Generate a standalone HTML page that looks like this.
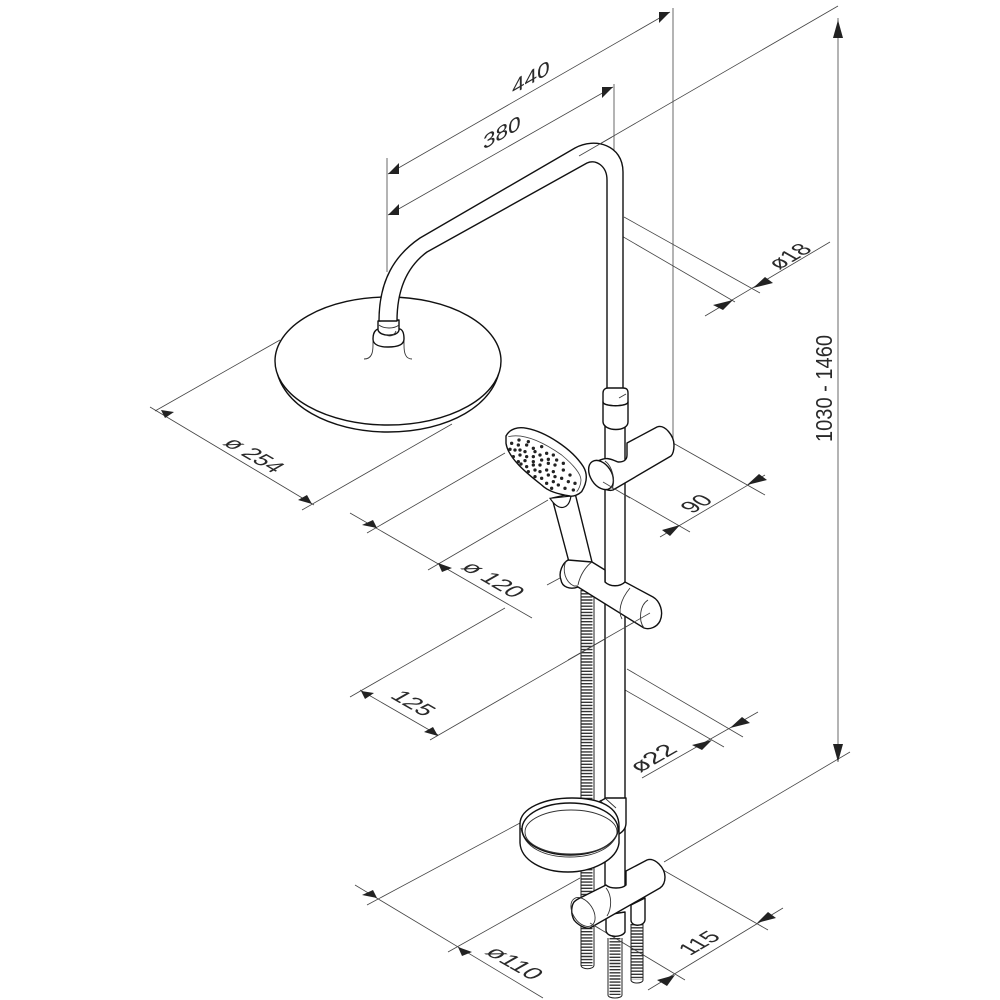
<!DOCTYPE html>
<html><head><meta charset="utf-8"><style>
html,body{margin:0;padding:0;background:#fff}svg{display:block}
text{font-family:"Liberation Sans",sans-serif;fill:#2a2a2a;font-size:20px}
.d{stroke:#444;stroke-width:.8;fill:none}
.o{stroke:#111;stroke-width:1.4;fill:#fff;stroke-linejoin:round}
.n{stroke:#111;stroke-width:1.4;fill:none}
.t{stroke:#333;stroke-width:.9;fill:none}
.h{stroke:#333;stroke-width:11;stroke-dasharray:1.4 1.7;fill:none}
.e{stroke:#222;stroke-width:1;fill:none}
.ar polygon{fill:#222}
</style></head><body>
<svg width="1000" height="1000" viewBox="0 0 1000 1000" xmlns="http://www.w3.org/2000/svg">

<!-- dimension lines -->
<g class="d">
<path d="M387 158V272"/>
<path d="M388 174L670 12M388 215L613 87"/>
<path d="M673 8V445M614 84V150"/>
<path d="M579 156L838 6M838 18V762M664 862L850 752"/>
<path d="M608 228L735 302M624 217L760 293M705 316L830 242"/>
<path d="M280 340L155 411M452 424L302 510M150 407L314 505"/>
<path d="M673 443L765 495M603 482L690 532M660 537L765 475"/>
<path d="M505 453L367 533M548 500L428 570M350 513L532 618"/>
<path d="M505 608L350 697M650 613L430 740M360 690L438 735"/>
<path d="M627 669L743 737M606 679L724 747M642 778L758 712"/>
<path d="M520 823L367 905M580 878L448 952M355 885L543 998"/>
<path d="M663 870L768 930M590 923L685 980M648 990L783 908"/>
</g>
<g class="ar">
<polygon points="388,174 399,163 399,174"/>
<polygon points="388,215 399,204 399,215"/>
<polygon points="670,12 659,23 659,12"/>
<polygon points="613,87 602,98 602,87"/>
<polygon points="838,20 833,38 843,38"/>
<polygon points="838,762 833,744 843,744"/>
<polygon points="733,300 713,305 723,310"/>
<polygon points="753,288 765,277 773,283"/>
<polygon points="161,410 174,412 165,418"/>
<polygon points="312,504 298,500 307,495"/>
<polygon points="680,525 662,530 670,536"/>
<polygon points="747,485 759,474 767,480"/>
<polygon points="377,528 362,525 373,520"/>
<polygon points="438,563 452,568 442,572"/>
<polygon points="361,691 374,693 365,699"/>
<polygon points="438,736 424,732 433,727"/>
<polygon points="712,740 692,745 702,750"/>
<polygon points="730,728 742,717 750,723"/>
<polygon points="377,898 362,895 373,890"/>
<polygon points="458,947 472,952 462,956"/>
<polygon points="675,975 657,980 667,986"/>
<polygon points="757,923 768,912 776,918"/>
</g>

<!-- labels -->
<text transform="matrix(1.13 -.65 0 1 512 95)">440</text>
<text transform="matrix(1.13 -.65 0 1 483 150)">380</text>
<text transform="matrix(1 -.58 1 .57 779 270)">ø18</text>
<text transform="matrix(1 .58 -1 .57 222 444)">ø 254</text>
<text transform="matrix(1 -.58 1 .57 692 514)">90</text>
<text transform="matrix(1.04 .6 -1 .57 460 568)">ø 120</text>
<text transform="matrix(1.05 .6 -1 .57 389 697)">125</text>
<text transform="matrix(1.13 -.65 1 .57 640 773)">ø22</text>
<text transform="matrix(1.09 .63 -1 .57 484 953)">ø110</text>
<text transform="matrix(1 -.58 1 .57 690 956)">115</text>
<text transform="translate(832 442) rotate(-90)" style="font-size:23px" textLength="107" lengthAdjust="spacingAndGlyphs">1030 - 1460</text>

<!-- shower head disc -->
<path class="o" d="M276 366C280 405 330 432 388 432C448 432 496 405 500 366Z"/>
<ellipse class="o" cx="388" cy="361" rx="113" ry="64"/>
<!-- connector -->
<path class="t" d="M364 359C372 359 373 352 373 345C373 338 373 333 375 331M412 359C405 359 404 352 404 345C404 338 404 333 402 331"/>
<path class="o" d="M373 339C373 330 378 329 378 329H400C403 330 404 334 404 339C404 347 392 347 388 347C380 347 373 345 373 339Z"/>
<path class="o" d="M378 321V330C380 337 398 337 399 330V320Z"/>
<path class="t" d="M379 325C384 329 394 329 399 325M386 335C390 337 394 336 396 331"/>

<!-- arm -->
<path class="o" d="M379 321C379 280 395 255 420 238L575 148C595 137 623 145 623 172V392H607V180C607 166 596 159 587 163L427 252C408 266 397 288 397 321Z"/>
<path class="d" d="M579 156L612 137"/>

<!-- column -->
<path class="o" d="M605 425H625V890H605Z"/>
<!-- hose behind -->
<path class="h" d="M587 590V966"/>
<path class="e" d="M581 590V965C581 970 594 970 594 965V590"/>

<!-- collar -->
<path class="o" d="M603 393C603 389 606 388 608 388H623C626 388 628 389 628 393V402C628 407 603 407 603 402Z"/>
<path class="o" d="M603 402C603 407 628 407 628 402V422C628 432 604 432 603 422Z"/>
<path class="t" d="M619 398L626 394"/>

<!-- upper bracket -->
<path class="o" d="M627 443L657 427C665 424 674 436 674 445C674 450 673 454 671 456L613 490C607 492 596 485 591 477C588 470 592 462 598 461C608 456 612 460 618 462C624 462 627 460 627 455Z"/>
<ellipse class="o" cx="601" cy="475" rx="10.5" ry="16" transform="rotate(-33 601 475)"/>
<path class="t" d="M605 461C612 466 616 480 612 489"/>
<path class="d" d="M603 482L630 498"/>

<!-- handle -->
<path class="o" d="M552 498L569 562C574 572 590 570 592 562L575 493Z"/>
<!-- head -->
<g transform="translate(495 420) scale(.33333)">
<path d="M165 235C175 250 190 265 205 262C220 258 225 245 228 228Z" fill="#fff" stroke="#111" stroke-width="3.6"/>
<path d="M33 48C45 25 70 20 95 25C150 35 230 85 265 140C280 165 275 190 260 215C250 225 235 230 225 228C190 222 160 215 140 195C95 160 40 115 33 70Z" fill="#fff" stroke="#111" stroke-width="4.2"/>
<path d="M40 50C90 38 150 70 200 105C230 130 258 160 258 180C258 195 250 210 245 215" fill="none" stroke="#444" stroke-width="2.4"/>
<g fill="#222">
<circle cx="50" cy="70" r="5"/><circle cx="72" cy="60" r="5"/><circle cx="100" cy="65" r="5"/><circle cx="70" cy="75" r="5"/><circle cx="95" cy="75" r="5"/>
<circle cx="45" cy="88" r="5"/><circle cx="60" cy="90" r="5"/><circle cx="75" cy="90" r="5"/><circle cx="115" cy="85" r="5"/><circle cx="140" cy="80" r="5"/>
<circle cx="90" cy="95" r="5"/><circle cx="120" cy="95" r="5"/><circle cx="155" cy="100" r="5"/><circle cx="175" cy="105" r="5"/><circle cx="55" cy="110" r="5"/>
<circle cx="75" cy="105" r="5"/><circle cx="95" cy="110" r="5"/><circle cx="115" cy="110" r="5"/><circle cx="135" cy="105" r="5"/><circle cx="140" cy="120" r="5"/>
<circle cx="160" cy="118" r="5"/><circle cx="185" cy="120" r="5"/><circle cx="70" cy="125" r="5"/><circle cx="90" cy="122" r="5"/><circle cx="115" cy="125" r="5"/>
<circle cx="78" cy="132" r="5"/><circle cx="95" cy="140" r="5"/><circle cx="115" cy="135" r="5"/><circle cx="135" cy="135" r="5"/><circle cx="160" cy="130" r="5"/>
<circle cx="180" cy="135" r="5"/><circle cx="205" cy="130" r="5"/><circle cx="100" cy="155" r="5"/><circle cx="120" cy="150" r="5"/><circle cx="135" cy="155" r="5"/>
<circle cx="155" cy="150" r="5"/><circle cx="175" cy="155" r="5"/><circle cx="205" cy="150" r="5"/><circle cx="225" cy="165" r="5"/><circle cx="120" cy="170" r="5"/>
<circle cx="140" cy="175" r="5"/><circle cx="160" cy="165" r="5"/><circle cx="180" cy="170" r="5"/><circle cx="200" cy="175" r="5"/><circle cx="220" cy="185" r="5"/>
<circle cx="240" cy="190" r="5"/><circle cx="155" cy="190" r="5"/><circle cx="175" cy="185" r="5"/><circle cx="190" cy="195" r="5"/><circle cx="210" cy="205" r="5"/>
<circle cx="235" cy="210" r="5"/><circle cx="170" cy="205" r="5"/>
</g>
</g>

<!-- lower slider -->
<path class="o" d="M592 562L605 570V582C610 587 620 587 625 582L653 597C660 601 664 612 660 621C657 627 650 630 644 628L578 587C570 590 562 587 561 580C558 572 563 563 568 560Z"/>
<path class="t" d="M566 561C562 570 565 582 574 586H578"/>
<path class="t" d="M578 585C580 575 586 566 592 562"/>
<path class="t" d="M630 588C620 600 618 612 622 619"/>
<path class="t" d="M648 600C640 605 638 620 644 628"/>
<path class="d" d="M568 660L650 613"/>
<path class="d" d="M547 585L560 578"/>

<!-- lower hoses -->
<path class="h" d="M615 938V995"/>
<path class="e" d="M608 938V995C608 999 622 999 622 995V938"/>
<path class="h" d="M637 924V980"/>
<path class="e" d="M631 924V980C631 984 643 984 643 980V924"/>
<!-- fittings -->
<path class="o" d="M606 915V930C606 938 622 938 625 932V912Z"/>
<path class="o" d="M631 905V920C631 927 644 927 645 920V898Z"/>

<!-- soap dish clamp -->
<path class="o" d="M597 803L606 798H626V823C626 830 620 834 615 836L597 825Z"/>
<path class="t" d="M600 800L612 814M606 799L616 808"/>
<!-- dish -->
<path class="o" d="M520 824C520 808 545 798 572 798C600 798 619 807 619 826V843C617 860 592 872 568 872C542 872 521 860 520 843Z"/>
<path class="t" d="M521 828C524 848 545 857 570 857C594 857 615 848 618 830"/>
<ellipse class="o" cx="570" cy="829" rx="48" ry="26"/>
<ellipse class="t" cx="571" cy="832" rx="46" ry="22"/>

<!-- lower cross body -->
<path class="o" d="M582 897L606 885C610 889 622 889 626 885V871L647 860C655 857 665 868 665 877C665 883 663 886 660 888L590 928C585 929 578 925 574 920C570 912 572 905 574 902C577 899 580 898 582 897Z"/>
<ellipse class="t" cx="583" cy="912" rx="10" ry="16" transform="rotate(-33 583 912)"/>
<path class="t" d="M606 888C612 895 612 908 607 916"/>
<path class="d" d="M590 923L600 929"/>
</svg>
</body></html>
